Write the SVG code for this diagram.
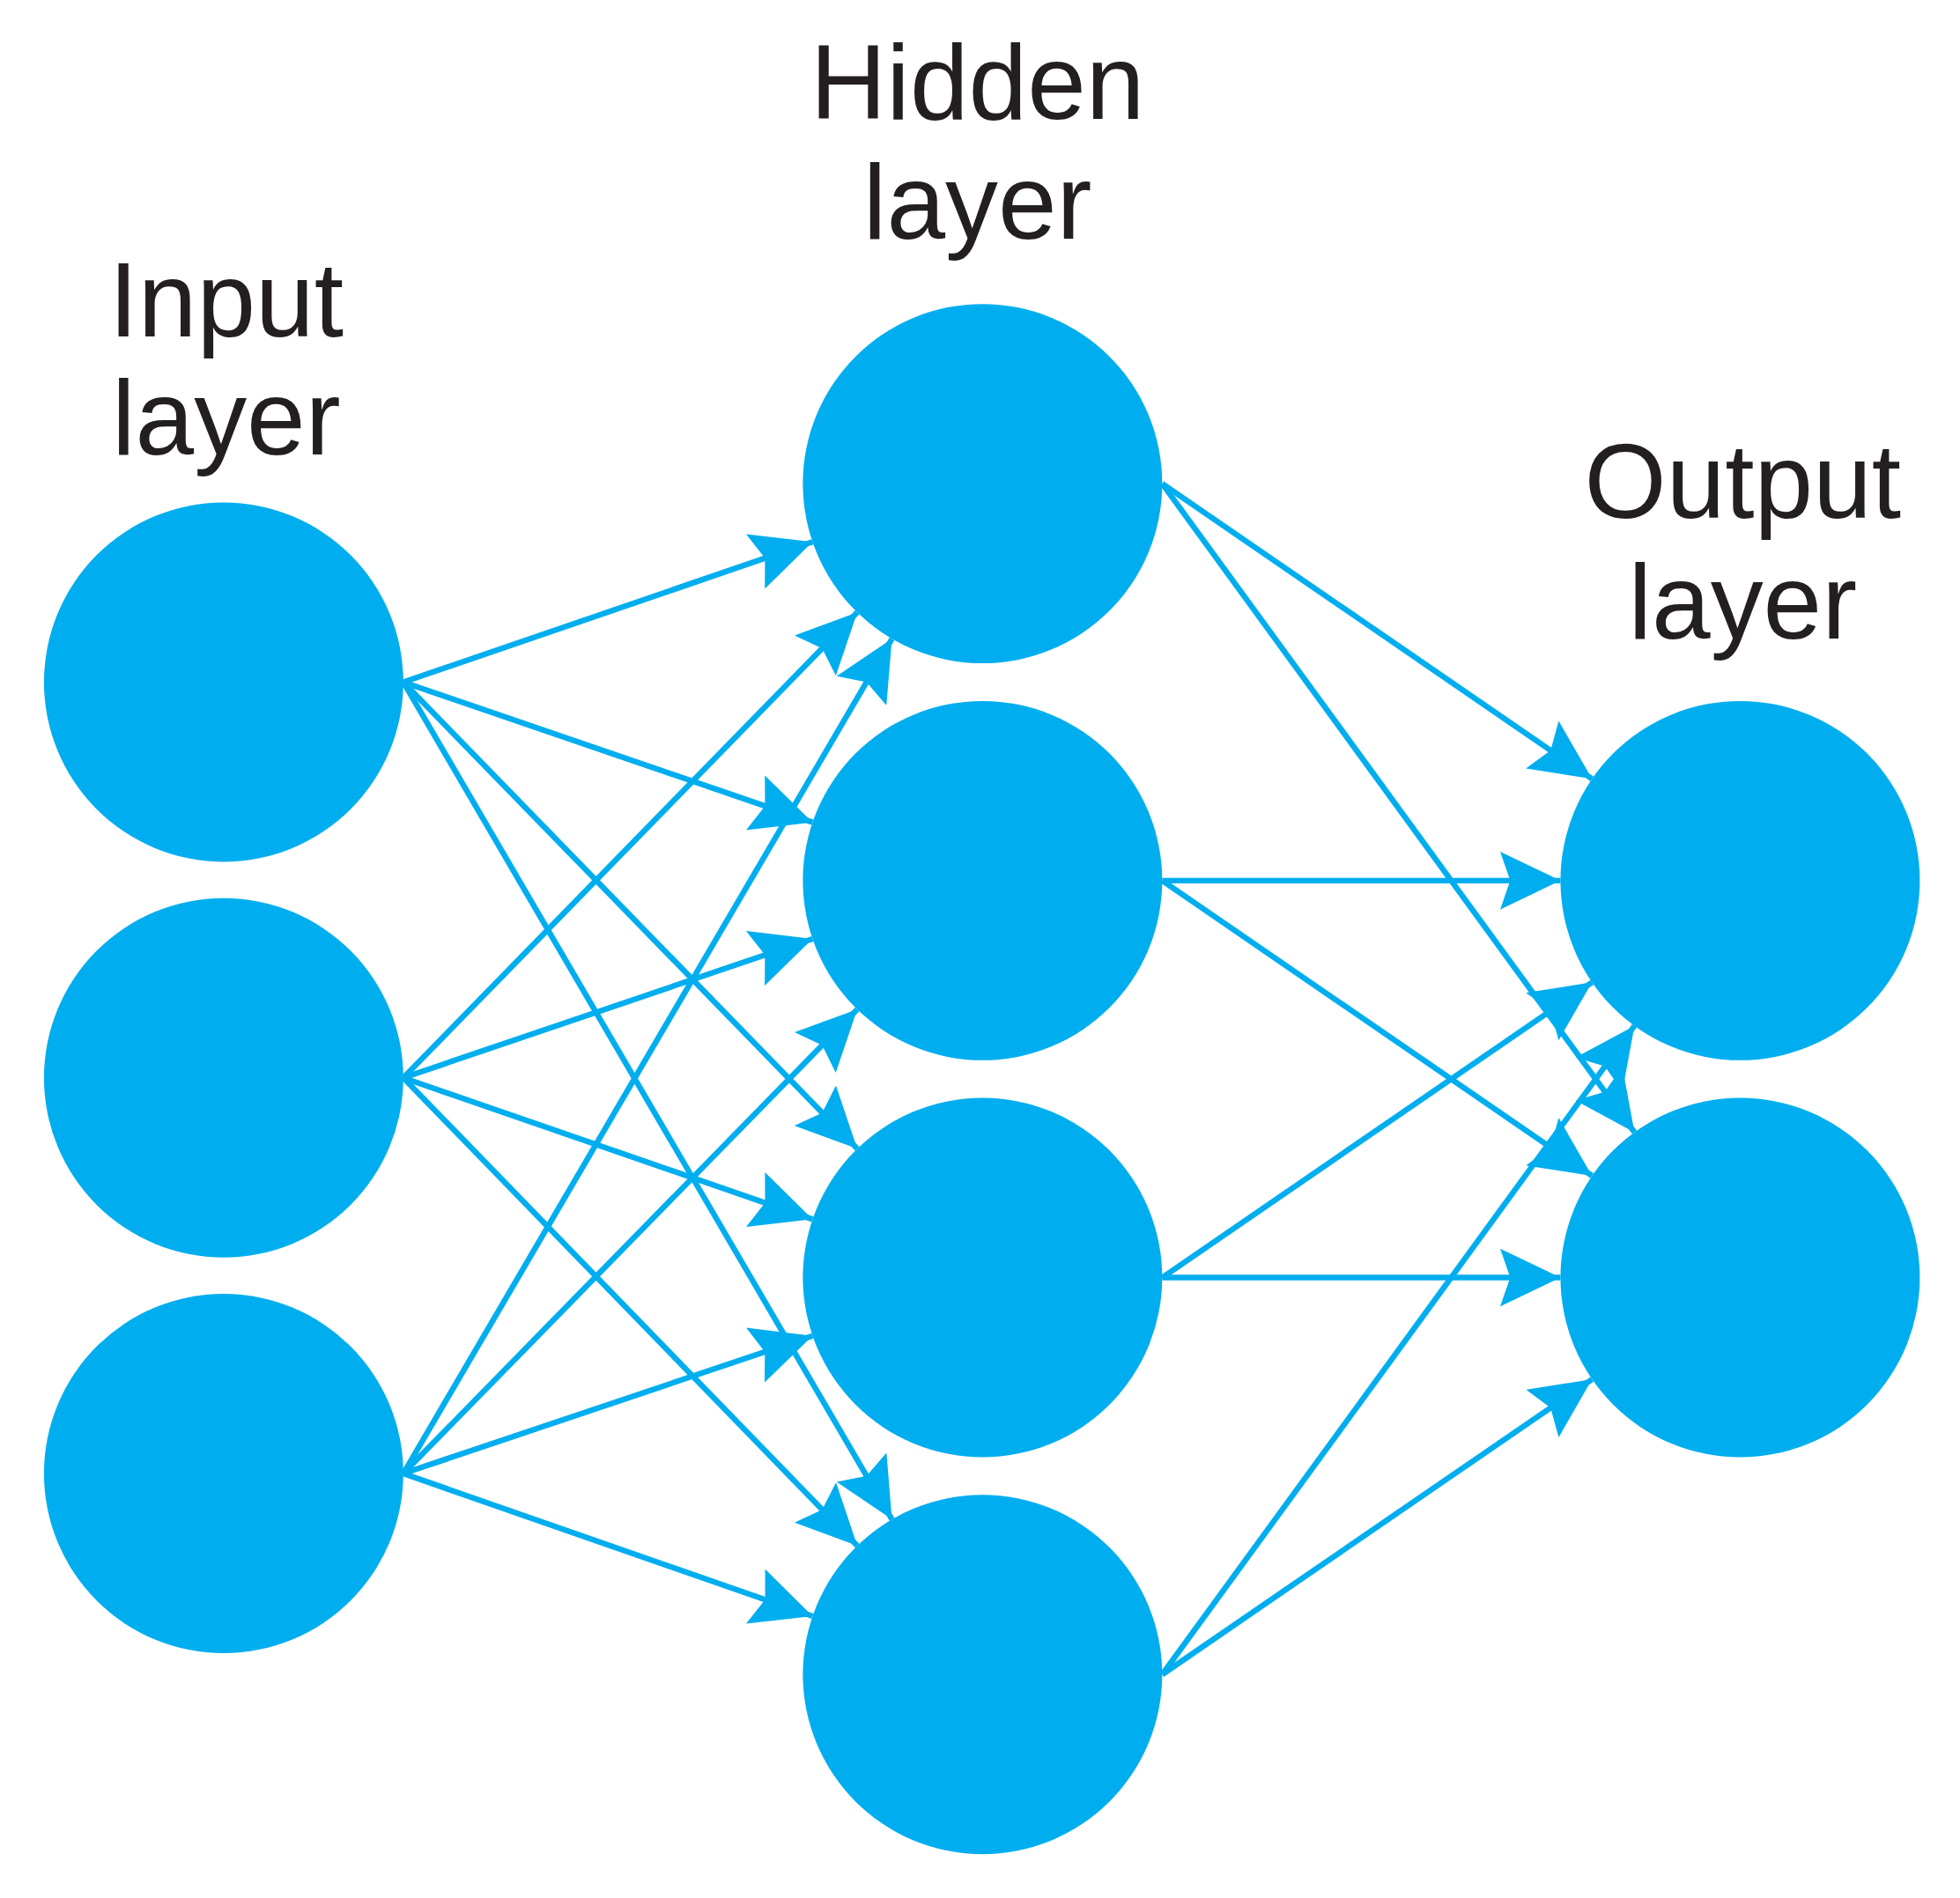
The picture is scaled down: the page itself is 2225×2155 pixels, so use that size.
<svg xmlns="http://www.w3.org/2000/svg" width="2225" height="2155" viewBox="0 0 2225 2155">
<style>
.n{fill:#00AEEF}
.e line{stroke:#00AEEF;stroke-width:4.5;marker-end:url(#a)}
.t{font-family:"Liberation Sans",Arial,sans-serif;font-size:84px;fill:#231f20;text-anchor:middle}
</style>
<defs><marker id="a" markerUnits="userSpaceOnUse" markerWidth="52" markerHeight="46" refX="48" refY="23" orient="auto"><path d="M0,0 L48,23 L0,46 L8,23 z" fill="#00AEEF"/></marker></defs>
<rect width="2225" height="2155" fill="#fff"/>
<g transform="scale(1.4263)">
<g id="labels">
<text class="t" x="180" y="268">Input</text><text class="t" x="180" y="362">layer</text>
<text class="t" x="778" y="95">Hidden</text><text class="t" x="778" y="190">layer</text>
<text class="t" x="1387" y="412">Output</text><text class="t" x="1387" y="508">layer</text>
</g>
<g class="e" id="connectors">
<line x1="321" y1="543" x2="646.7" y2="431.4"/>
<line x1="321" y1="543" x2="646.7" y2="654.6"/>
<line x1="321" y1="543" x2="682.3" y2="914.5"/>
<line x1="321" y1="543" x2="709.9" y2="1209.5"/>
<line x1="321" y1="858" x2="682.3" y2="487.5"/>
<line x1="321" y1="858" x2="646.7" y2="747.4"/>
<line x1="321" y1="858" x2="646.7" y2="970.6"/>
<line x1="321" y1="858" x2="682.3" y2="1230.5"/>
<line x1="321" y1="1173" x2="709.9" y2="508.5"/>
<line x1="321" y1="1173" x2="682.3" y2="803.5"/>
<line x1="321" y1="1173" x2="646.7" y2="1063.4"/>
<line x1="321" y1="1173" x2="646.7" y2="1286.6"/>
<line x1="925" y1="385" x2="1267.1" y2="620"/>
<line x1="925" y1="385" x2="1300.9" y2="901.4"/>
<line x1="925" y1="701" x2="1242" y2="701"/>
<line x1="925" y1="701" x2="1267.1" y2="936"/>
<line x1="925" y1="1017" x2="1267.1" y2="782"/>
<line x1="925" y1="1017" x2="1242" y2="1017"/>
<line x1="925" y1="1333" x2="1300.9" y2="816.6"/>
<line x1="925" y1="1333" x2="1267.1" y2="1098"/>
</g>
<g id="i1"><circle class="n" cx="178" cy="543" r="143"/></g>
<g id="i2"><circle class="n" cx="178" cy="858" r="143"/></g>
<g id="i3"><circle class="n" cx="178" cy="1173" r="143"/></g>
<g id="h1"><circle class="n" cx="782" cy="385" r="143"/></g>
<g id="h2"><circle class="n" cx="782" cy="701" r="143"/></g>
<g id="h3"><circle class="n" cx="782" cy="1017" r="143"/></g>
<g id="h4"><circle class="n" cx="782" cy="1333" r="143"/></g>
<g id="o1"><circle class="n" cx="1385" cy="701" r="143"/></g>
<g id="o2"><circle class="n" cx="1385" cy="1017" r="143"/></g>
</g>
</svg>
